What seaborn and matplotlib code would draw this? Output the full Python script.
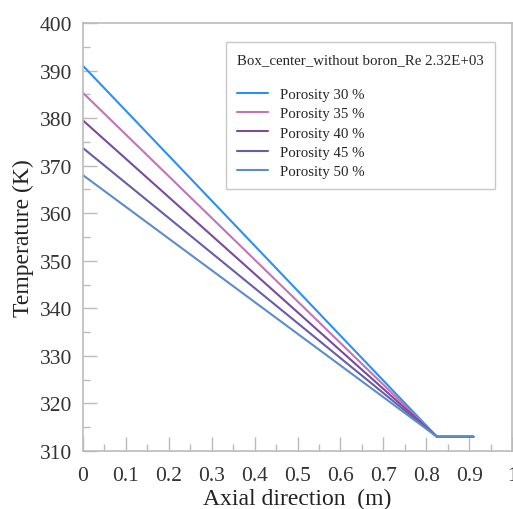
import numpy as np
import pandas as pd
import matplotlib
matplotlib.use("Agg")
import matplotlib.pyplot as plt
import seaborn as sns
from matplotlib.ticker import MultipleLocator

labels = ["Porosity 30 %", "Porosity 35 %", "Porosity 40 %", "Porosity 45 %", "Porosity 50 %"]
x_points = [0.0, 0.825, 0.91]
t_start = [391.0, 385.3, 379.5, 373.7, 368.0]
t_knee = [313.0, 313.0, 313.0, 313.0, 313.0]
t_end = [313.0, 313.0, 313.0, 313.0, 313.0]
colors = ["#2b8ff5", "#c274b4", "#7b4b9b", "#6a5cab", "#5b8dca"]

rows = []
for lab, a, b, c in zip(labels, t_start, t_knee, t_end):
    for xv, tv in zip(x_points, [a, b, c]):
        rows.append({"x": xv, "T": tv, "series": lab})
df = pd.DataFrame(rows)

sns.set_style("white")
plt.rcParams["font.family"] = ["Liberation Serif", "DejaVu Serif"]

fig = plt.figure(figsize=(5.13, 5.10), dpi=100)
ax = fig.add_axes([83/513, 1-452/510, (512-83)/513, (452-24)/510])
sns.lineplot(data=df, x="x", y="T", hue="series", palette=colors, ax=ax, lw=1.5, legend=True)

ax.set_xlim(0, 1)
ax.set_ylim(310, 400)
ax.xaxis.set_major_locator(MultipleLocator(0.1))
ax.xaxis.set_minor_locator(MultipleLocator(0.05))
ax.yaxis.set_major_locator(MultipleLocator(10))
ax.yaxis.set_minor_locator(MultipleLocator(5))
ax.set_xticks(np.arange(0, 1.01, 0.1))
ax.set_xticklabels(["0", "0.1", "0.2", "0.3", "0.4", "0.5", "0.6", "0.7", "0.8", "0.9", "1"])
ax.tick_params(axis="both", which="major", direction="in", length=10, width=1, color="#bbbbbb",
               labelsize=15.5, labelcolor="#333333", left=True, bottom=True)
ax.tick_params(axis="x", which="major", pad=11)
ax.tick_params(axis="y", which="major", pad=8)
ax.tick_params(axis="both", which="minor", direction="in", length=5, width=1, color="#bbbbbb",
               left=True, bottom=True)
for s in ax.spines.values():
    s.set_color("#bbbbbb")
    s.set_linewidth(1.2)
ax.set_xlabel("Axial direction  (m)", fontsize=17, color="#222222", labelpad=2)
ax.set_ylabel("Temperature (K)", fontsize=17, color="#222222", labelpad=4)

h, l = ax.get_legend_handles_labels()
leg = ax.legend(h, l, title="Box_center_without boron_Re 2.32E+03\n", loc="upper right",
                bbox_to_anchor=(0.978, 0.972), fontsize=10.7, title_fontsize=10.7, frameon=True,
                fancybox=False, edgecolor="#bbbbbb", handlelength=2.1, labelspacing=0.4,
                borderpad=0.75, alignment="left")
leg.get_frame().set_linewidth(1.0)

fig.savefig("out.png", dpi=100)
